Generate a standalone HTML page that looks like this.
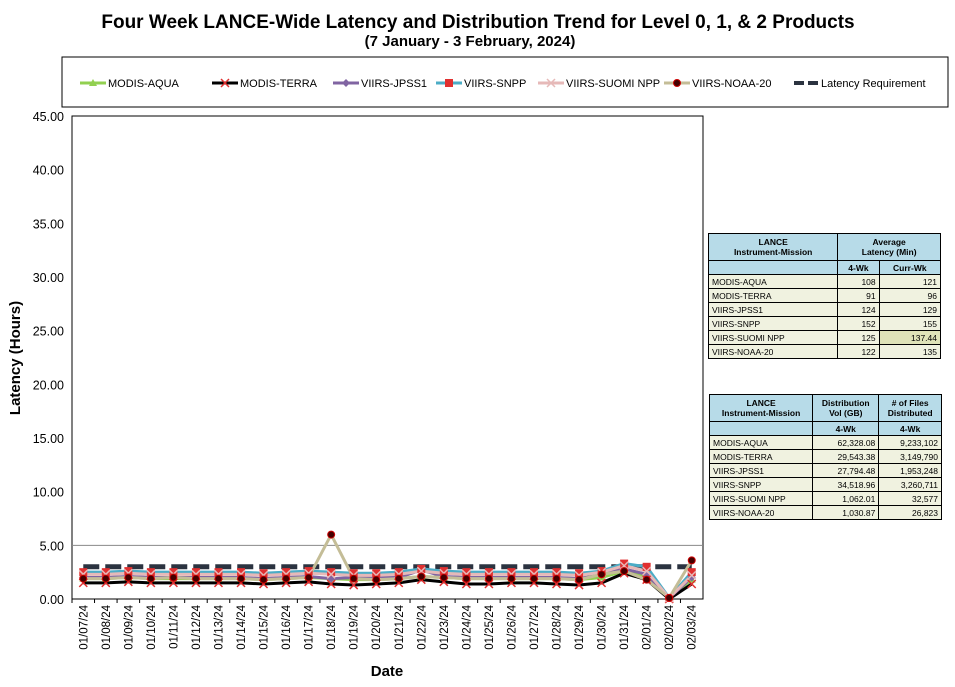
<!DOCTYPE html>
<html><head><meta charset="utf-8">
<style>
body{margin:0;background:#fff;font-family:"Liberation Sans",sans-serif;}
#wrap{position:relative;width:955px;height:687px;overflow:hidden;}
.tbl{position:absolute;border-collapse:collapse;font-size:8.5px;}
.tbl td{border:1px solid #000;padding:0 3px;height:13px;background:#f0f2e0;}
.tbl td.h{background:#b7dbe8;font-weight:bold;text-align:center;}
.tbl td.n{text-align:right;}
</style></head><body>
<div id="wrap">
<svg id="svg" width="955" height="687">
<text x="478" y="28" text-anchor="middle" font-size="19" font-weight="bold" font-family="Liberation Sans">Four Week LANCE-Wide Latency and Distribution Trend for Level 0, 1, &amp; 2 Products</text>
<text x="470" y="46" text-anchor="middle" font-size="15" font-weight="bold" font-family="Liberation Sans">(7  January   - 3  February,  2024)</text>
<rect x="62" y="57" width="886" height="50" fill="none" stroke="#000"/>
<g id="legend"></g>
<rect x="72" y="116" width="631" height="483" fill="none" stroke="#000"/>
<g id="grid"></g><g id="series"></g>
<text x="20" y="358" transform="rotate(-90 20 358)" text-anchor="middle" font-size="15" font-weight="bold">Latency (Hours)</text>
<text x="387" y="676" text-anchor="middle" font-size="15" font-weight="bold">Date</text>
</svg>
<table class="tbl" style="left:708px;top:233px;width:233px">
<tr><td class="h" style="height:26px">LANCE<br>Instrument-Mission</td><td class="h" colspan="2">Average<br>Latency (Min)</td></tr>
<tr><td class="h"></td><td class="h">4-Wk</td><td class="h">Curr-Wk</td></tr>
<tr><td>MODIS-AQUA</td><td class="n">108</td><td class="n">121</td></tr>
<tr><td>MODIS-TERRA</td><td class="n">91</td><td class="n">96</td></tr>
<tr><td>VIIRS-JPSS1</td><td class="n">124</td><td class="n">129</td></tr>
<tr><td>VIIRS-SNPP</td><td class="n">152</td><td class="n">155</td></tr>
<tr><td>VIIRS-SUOMI NPP</td><td class="n">125</td><td class="n" style="background:#dfe3b8">137.44</td></tr>
<tr><td>VIIRS-NOAA-20</td><td class="n">122</td><td class="n">135</td></tr>
</table>
<table class="tbl" style="left:709px;top:394px;width:233px">
<tr><td class="h" style="height:26px">LANCE<br>Instrument-Mission</td><td class="h">Distribution<br>Vol (GB)</td><td class="h"># of Files<br>Distributed</td></tr>
<tr><td class="h"></td><td class="h">4-Wk</td><td class="h">4-Wk</td></tr>
<tr><td>MODIS-AQUA</td><td class="n">62,328.08</td><td class="n">9,233,102</td></tr>
<tr><td>MODIS-TERRA</td><td class="n">29,543.38</td><td class="n">3,149,790</td></tr>
<tr><td>VIIRS-JPSS1</td><td class="n">27,794.48</td><td class="n">1,953,248</td></tr>
<tr><td>VIIRS-SNPP</td><td class="n">34,518.96</td><td class="n">3,260,711</td></tr>
<tr><td>VIIRS-SUOMI NPP</td><td class="n">1,062.01</td><td class="n">32,577</td></tr>
<tr><td>VIIRS-NOAA-20</td><td class="n">1,030.87</td><td class="n">26,823</td></tr>
</table>
</div>
<script>
const dates=["01/07/24","01/08/24","01/09/24","01/10/24","01/11/24","01/12/24","01/13/24","01/14/24","01/15/24","01/16/24","01/17/24","01/18/24","01/19/24","01/20/24","01/21/24","01/22/24","01/23/24","01/24/24","01/25/24","01/26/24","01/27/24","01/28/24","01/29/24","01/30/24","01/31/24","02/01/24","02/02/24","02/03/24"];
const yTicks=[0,5,10,15,20,25,30,35,40,45];
const aqua=[1.9,1.9,2.0,1.9,1.9,1.9,1.9,1.9,1.8,1.9,2.0,1.9,1.8,1.8,1.9,2.1,2.0,1.9,1.9,1.9,1.9,1.9,1.8,2.0,2.6,2.0,0.1,1.8];
const terra=[1.5,1.5,1.6,1.5,1.5,1.5,1.5,1.5,1.4,1.5,1.6,1.4,1.3,1.4,1.5,1.8,1.6,1.4,1.4,1.5,1.5,1.4,1.3,1.5,2.4,1.8,0.0,1.4];
const jpss1=[2.0,2.0,2.1,2.0,2.0,2.0,2.0,2.0,1.9,2.0,2.1,1.9,2.0,2.0,2.0,2.7,2.1,2.0,2.0,2.0,2.0,2.0,1.9,2.3,2.8,2.3,0.1,2.0];
const snpp=[2.5,2.5,2.6,2.5,2.5,2.5,2.5,2.5,2.4,2.5,2.6,2.5,2.4,2.4,2.5,2.8,2.6,2.5,2.5,2.5,2.5,2.5,2.4,2.6,3.3,3.0,0.1,2.5];
const suomi=[2.3,2.3,2.4,2.3,2.3,2.3,2.3,2.3,2.2,2.3,2.4,2.3,2.2,2.2,2.3,2.6,2.4,2.3,2.3,2.3,2.3,2.3,2.2,2.5,3.1,2.6,0.1,2.2];
const noaa20=[1.9,1.9,2.0,1.9,2.0,1.9,1.9,1.9,1.8,1.9,2.0,6.0,1.9,1.8,1.9,2.1,2.0,1.9,1.9,1.9,1.9,1.9,1.8,2.3,2.6,1.8,0.1,3.6];
const req=3.0;
const gridLines=[5];
const X0=72,X1=703,Y0=599,Y1=116,YMAX=45;
const bw=(X1-X0)/dates.length;
function xs(i){return X0+bw*(i+0.5);}
function ys(v){return Y0-(v/YMAX)*(Y0-Y1);}
const NS="http://www.w3.org/2000/svg";
function mk(t,a,p){const e=document.createElementNS(NS,t);for(const k in a)e.setAttribute(k,a[k]);p.appendChild(e);return e;}
const grid=document.getElementById('grid'),ser=document.getElementById('series'),leg=document.getElementById('legend');
gridLines.forEach(v=>{
 const y=ys(v);
 const l=mk('line',{x1:X0,x2:X1,y1:y,y2:y,stroke:'#888'},grid);
 
 
});
yTicks.forEach(v=>{
 const y=ys(v);
 const t=mk('text',{x:X0-8,y:y+5,'text-anchor':'end','font-size':12.5},grid);t.textContent=v.toFixed(2);
 
 
});
dates.forEach((d,i)=>{
 const x=xs(i);
 const tk=mk('line',{x1:X0+bw*i,x2:X0+bw*i,y1:Y0,y2:Y0+4,stroke:'#000'},grid);
 
 
 const t=mk('text',{x:x+4,y:605,'text-anchor':'end','font-size':11.5,transform:`rotate(-90 ${x+4} 605)`},grid);t.textContent=d;
 
 
});
const reqLine=mk('line',{x1:xs(0),x2:xs(dates.length-1),y1:ys(req),y2:ys(req),stroke:'#2b3340','stroke-width':5,'stroke-dasharray':'16,6'},ser);


const S=[
 {n:'modis-aqua',lab:'MODIS-AQUA',d:aqua,c:'#92d050',m:'tri',mc:'#92d050'},
 {n:'modis-terra',lab:'MODIS-TERRA',d:terra,c:'#000',m:'x',mc:'#e03030'},
 {n:'viirs-jpss1',lab:'VIIRS-JPSS1',d:jpss1,c:'#8064a2',m:'dia',mc:'#8064a2'},
 {n:'viirs-snpp',lab:'VIIRS-SNPP',d:snpp,c:'#4bacc6',m:'sq',mc:'#e03030'},
 {n:'viirs-suomi-npp',lab:'VIIRS-SUOMI NPP',d:suomi,c:'#e6b9b8',m:'x',mc:'#e6b9b8'},
 {n:'viirs-noaa-20',lab:'VIIRS-NOAA-20',d:noaa20,c:'#c4bd97',m:'dot',mc:'#5a0000'}];
function marker(m,x,y,c,p){
 if(m==='tri')return mk('path',{d:`M${x-4} ${y+3}L${x} ${y-4}L${x+4} ${y+3}Z`,fill:c},p);
 if(m==='x')return mk('path',{d:`M${x-4} ${y-4}L${x+4} ${y+4}M${x-4} ${y+4}L${x+4} ${y-4}`,stroke:c,'stroke-width':1.5},p);
 if(m==='dia')return mk('path',{d:`M${x} ${y-4}L${x+4} ${y}L${x} ${y+4}L${x-4} ${y}Z`,fill:c},p);
 if(m==='sq')return mk('rect',{x:x-4,y:y-4,width:8,height:8,fill:c},p);
 return mk('circle',{cx:x,cy:y,r:3.5,fill:'#400',stroke:'#c00','stroke-width':1},p);
}
S.forEach(s=>{
 const pl=mk('polyline',{points:s.d.map((v,i)=>xs(i)+','+ys(v)).join(' '),fill:'none',stroke:s.c,'stroke-width':3},ser);
 
 
});
S.forEach(s=>{
 s.d.forEach((v,i)=>{
  const e=marker(s.m,xs(i),ys(v),s.mc,ser);
  
  
 });
});
const legX=[80,212,333,436,538,664,794];
S.forEach((s,k)=>{
 const x=legX[k],y=83;
 const g=mk('g',{},leg);
 
 
 mk('line',{x1:x,x2:x+26,y1:y,y2:y,stroke:s.c,'stroke-width':3},g);
 marker(s.m,x+13,y,s.mc,g);
 const t=mk('text',{x:x+28,y:y+4,'font-size':11},g);t.textContent=s.lab;
});
const g=mk('g',{},leg);


mk('line',{x1:794,x2:820,y1:83,y2:83,stroke:'#2b3340','stroke-width':4,'stroke-dasharray':'10,4'},g);
const t=mk('text',{x:821,y:87,'font-size':11},g);t.textContent='Latency Requirement';
</script>
</body></html>
